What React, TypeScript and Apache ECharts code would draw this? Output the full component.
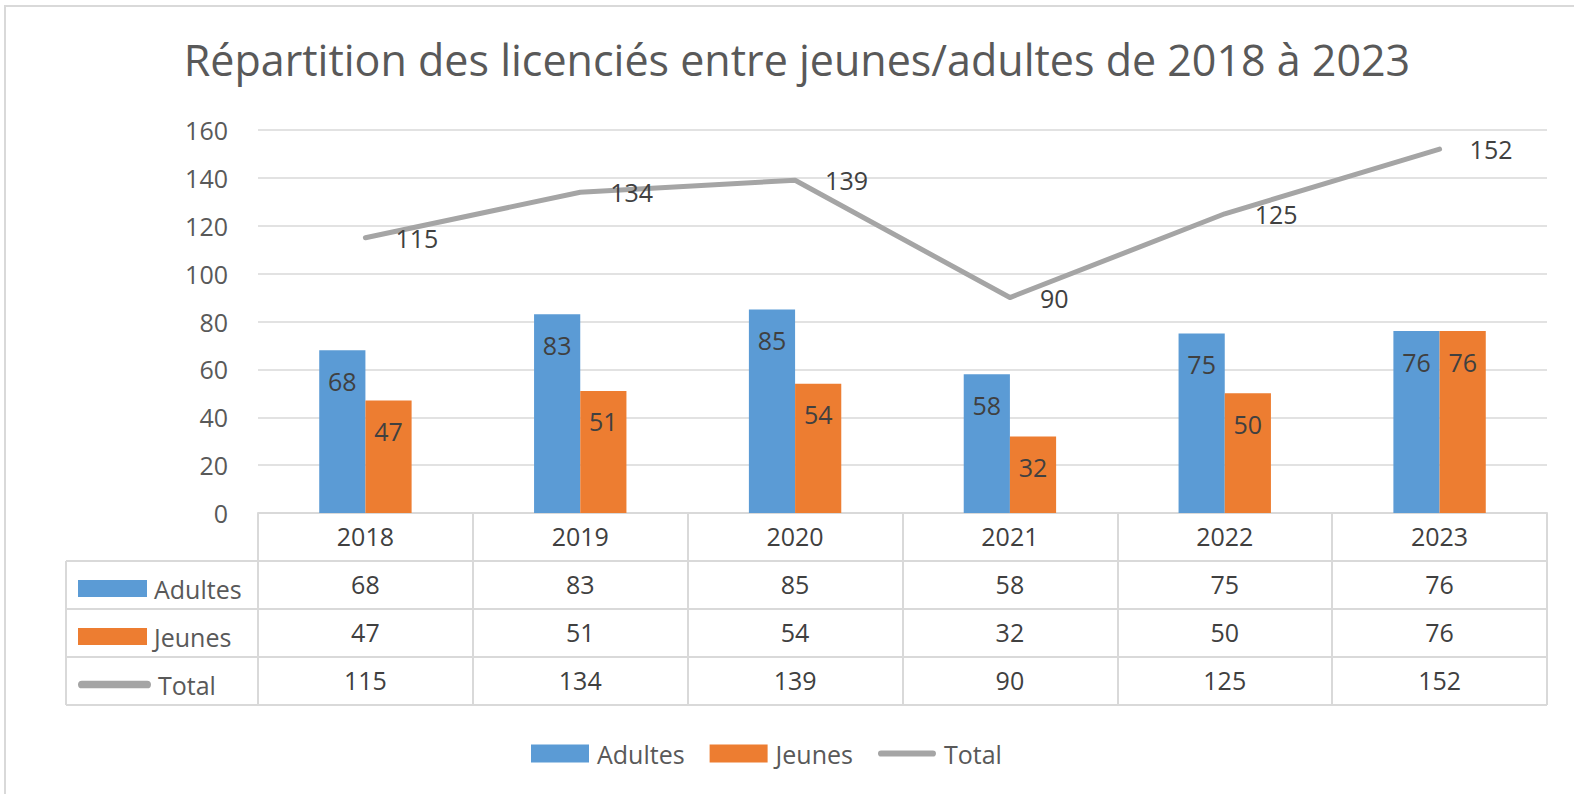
import React, { useEffect, useRef } from "react";
import * as echarts from "echarts";

const title = "Répartition des licenciés entre jeunes/adultes de 2018 à 2023";
const years = ["2018", "2019", "2020", "2021", "2022", "2023"];
const adultes = [68, 83, 85, 58, 75, 76];
const jeunes = [47, 51, 54, 32, 50, 76];
const total = [115, 134, 139, 90, 125, 152];
const seriesNames = ["Adultes", "Jeunes", "Total"];

const FONT = "'Open Sans', 'Liberation Sans', sans-serif";
const GRID_LEFT = 258;
const GRID_RIGHT_X = 1547;
const GRID_TOP = 130;
const GRID_BOTTOM_Y = 513;
const ROW_H = 48;
const BORDER = "#d9d9d9";
const TEXT = "#595959";
const LABEL = "#404040";
const LINE_ICON =
  "path://M3.5,0 H62.5 A3.5,3.5 0 0 1 62.5,7 H3.5 A3.5,3.5 0 0 1 3.5,0 Z";

function tableAxis(data: string[], index: number) {
  return {
    type: "category",
    gridIndex: 0,
    position: "bottom",
    offset: index * ROW_H,
    data,
    boundaryGap: true,
    axisLine: { show: true, lineStyle: { color: BORDER, width: 2 } },
    axisTick: { show: true, interval: 0, length: ROW_H, inside: false, lineStyle: { color: BORDER, width: 2 } },
    axisLabel: {
      interval: 0,
      margin: 23,
      verticalAlign: "middle",
      fontSize: 25,
      fontFamily: FONT,
      color: LABEL,
    },
    splitLine: { show: false },
  };
}

function legendItem(name: string) {
  return name === "Total" ? { name, icon: LINE_ICON } : { name, icon: "rect" };
}

function tableLegend(name: string, row: number) {
  return {
    data: [legendItem(name)],
    orient: "vertical",
    left: 73,
    top: GRID_BOTTOM_Y + row * ROW_H + ROW_H / 2 - 14,
    itemWidth: name === "Total" ? 73 : 69,
    itemHeight: 17,
    selectedMode: false,
    textStyle: { fontFamily: FONT, fontSize: 25, color: TEXT, padding: [0, 0, 0, 2] },
  };
}

export default function App() {
  const ref = useRef<HTMLDivElement>(null);
  useEffect(() => {
    if (!ref.current) return;
    const chart = echarts.init(ref.current, undefined, { renderer: "svg" });
    const rowLines = [1, 2, 3].map((i) => ({
      type: "line",
      shape: { x1: 66, y1: GRID_BOTTOM_Y + i * ROW_H, x2: GRID_LEFT, y2: GRID_BOTTOM_Y + i * ROW_H },
      style: { stroke: BORDER, lineWidth: 2 },
    }));
    chart.setOption({
      animation: false,
      backgroundColor: "#ffffff",
      title: {
        text: title,
        left: 792,
        textAlign: "center",
        top: 33,
        textStyle: { fontFamily: FONT, fontSize: 43, fontWeight: "normal", color: TEXT },
      },
      grid: {
        left: GRID_LEFT,
        right: 1574 - GRID_RIGHT_X,
        top: GRID_TOP,
        bottom: 794 - GRID_BOTTOM_Y,
      },
      legend: [
        {
          data: seriesNames.map(legendItem),
          left: 526,
          top: 736,
          itemWidth: 58,
          itemHeight: 18,
          itemGap: 25,
          selectedMode: false,
          textStyle: { fontFamily: FONT, fontSize: 25, color: TEXT, padding: [0, 0, 0, 3] },
        },
        tableLegend("Adultes", 1),
        tableLegend("Jeunes", 2),
        tableLegend("Total", 3),
      ],
      xAxis: [
        tableAxis(years, 0),
        tableAxis(adultes.map(String), 1),
        tableAxis(jeunes.map(String), 2),
        tableAxis(total.map(String), 3),
      ],
      yAxis: {
        type: "value",
        min: 0,
        max: 160,
        interval: 20,
        axisLine: { show: false },
        axisTick: { show: false },
        axisLabel: { margin: 30, fontSize: 25, fontFamily: FONT, color: TEXT },
        splitLine: { lineStyle: { color: BORDER, width: 1.5 } },
      },
      series: [
        {
          name: "Adultes",
          type: "bar",
          xAxisIndex: 0,
          data: adultes,
          barGap: "0%",
          barCategoryGap: "57%",
          itemStyle: { color: "#5b9bd5" },
          label: { show: true, position: "insideTop", distance: 18, fontSize: 25, fontFamily: FONT, color: LABEL },
        },
        {
          name: "Jeunes",
          type: "bar",
          xAxisIndex: 0,
          data: jeunes,
          barGap: "0%",
          barCategoryGap: "57%",
          itemStyle: { color: "#ed7d31" },
          label: { show: true, position: "insideTop", distance: 18, fontSize: 25, fontFamily: FONT, color: LABEL },
        },
        {
          name: "Total",
          type: "line",
          xAxisIndex: 0,
          data: total,
          symbol: "circle",
          symbolSize: 0,
          showSymbol: true,
          itemStyle: { color: "#a5a5a5" },
          lineStyle: { color: "#a5a5a5", width: 5, cap: "round", join: "round" },
          label: { show: true, position: "right", distance: 30, fontSize: 25, fontFamily: FONT, color: LABEL },
        },
      ],
      graphic: [
        {
          type: "rect",
          shape: { x: 5, y: 6, width: 1600, height: 820 },
          style: { fill: "none", stroke: BORDER, lineWidth: 2 },
          silent: true,
        },
        ...rowLines,
        {
          type: "line",
          shape: { x1: 66, y1: GRID_BOTTOM_Y + 4 * ROW_H, x2: GRID_RIGHT_X, y2: GRID_BOTTOM_Y + 4 * ROW_H },
          style: { stroke: BORDER, lineWidth: 2 },
        },
        {
          type: "line",
          shape: { x1: 66, y1: GRID_BOTTOM_Y + ROW_H, x2: 66, y2: GRID_BOTTOM_Y + 4 * ROW_H },
          style: { stroke: BORDER, lineWidth: 2 },
        },
      ],
    });
    return () => chart.dispose();
  }, []);
  return (
    <div
      ref={ref}
      style={{ position: "fixed", left: 0, top: 0, width: 1574, height: 794, background: "#fff" }}
    />
  );
}
